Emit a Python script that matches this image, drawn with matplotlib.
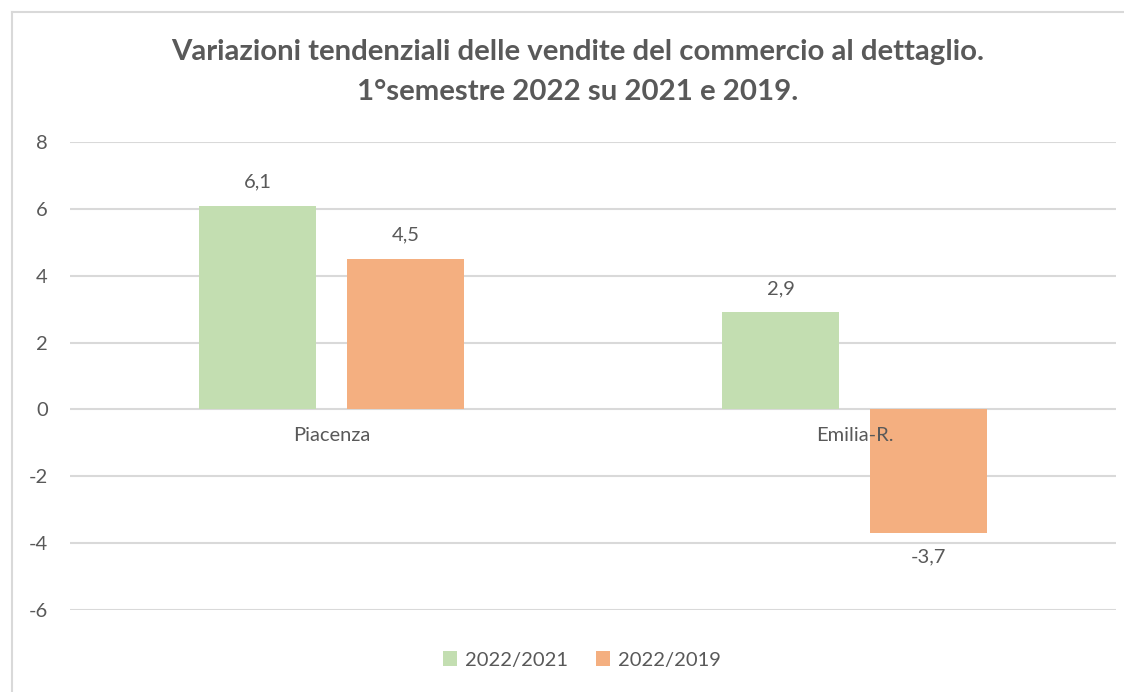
import matplotlib
matplotlib.use("Agg")
import matplotlib.pyplot as plt
from matplotlib.lines import Line2D
import numpy as np

categories = ["Piacenza", "Emilia-R."]
series_names = ["2022/2021", "2022/2019"]
v_2022_2021 = [6.1, 2.9]
v_2022_2019 = [4.5, -3.7]
y_ticks = [-6, -4, -2, 0, 2, 4, 6, 8]

colors = ["#C3DEB1", "#F4AF80"]
txt = "#595959"
plt.rcParams['font.family'] = ['Lato', 'DejaVu Sans']
fs = 14.5

W, H = 1124, 692
fig = plt.figure(figsize=(W/100, H/100), dpi=100)
ax = fig.add_axes([70/W, 1-610/H, (1116-70)/W, (610-142)/H])

x = np.arange(len(categories))
bw = 0.224
off = 0.1416
for i, (vals, c, name) in enumerate(zip([v_2022_2021, v_2022_2019], colors, series_names)):
    xs = x + (-off if i == 0 else off)
    ax.bar(xs, vals, width=bw, color=c, label=name, zorder=3)
    for xx, v in zip(xs, vals):
        lab = f"{v:.1f}".replace(".", ",")
        if v >= 0:
            ax.annotate(lab, (xx, v), xytext=(0, 11), textcoords="offset points",
                        ha="center", va="bottom", fontsize=fs, color=txt)
        else:
            ax.annotate(lab, (xx, v), xytext=(0, -11), textcoords="offset points",
                        ha="center", va="top", fontsize=fs, color=txt)

ax.set_xlim(-0.5, 1.5)
ax.set_ylim(-6, 8)
ax.set_yticks(y_ticks)
ax.set_yticklabels([str(t) for t in y_ticks], fontsize=fs, color=txt)
ax.grid(axis="y", color="#D9D9D9", linewidth=1.5, zorder=0)
ax.set_xticks([])
for s in ax.spines.values():
    s.set_visible(False)
ax.tick_params(axis="y", length=0, pad=16)

for xx, name in zip(x, categories):
    ax.annotate(name, (xx, 0), xytext=(0, -13), textcoords="offset points",
                ha="center", va="top", fontsize=fs, color=txt)

fig.text(578/W, 1-52/H, "Variazioni tendenziali delle vendite del commercio al dettaglio.",
         ha="center", va="center", fontsize=21.2, fontweight="bold", color=txt)
fig.text(578/W, 1-92/H, "1°semestre 2022 su 2021 e 2019.",
         ha="center", va="center", fontsize=21.2, fontweight="bold", color=txt)

ax.legend(loc="center", bbox_to_anchor=(582/W, 1-660/H), bbox_transform=fig.transFigure,
          ncol=2, frameon=False, fontsize=fs, handlelength=0.7, handleheight=0.7,
          handletextpad=0.4, columnspacing=1.4, labelcolor=txt)

fig.add_artist(Line2D([12/W, 1], [1-12/H, 1-12/H], color="#D9D9D9", lw=1.5, transform=fig.transFigure))
fig.add_artist(Line2D([12/W, 12/W], [0, 1-12/H], color="#D9D9D9", lw=1.5, transform=fig.transFigure))

fig.savefig("out.png", dpi=100, facecolor="white")
